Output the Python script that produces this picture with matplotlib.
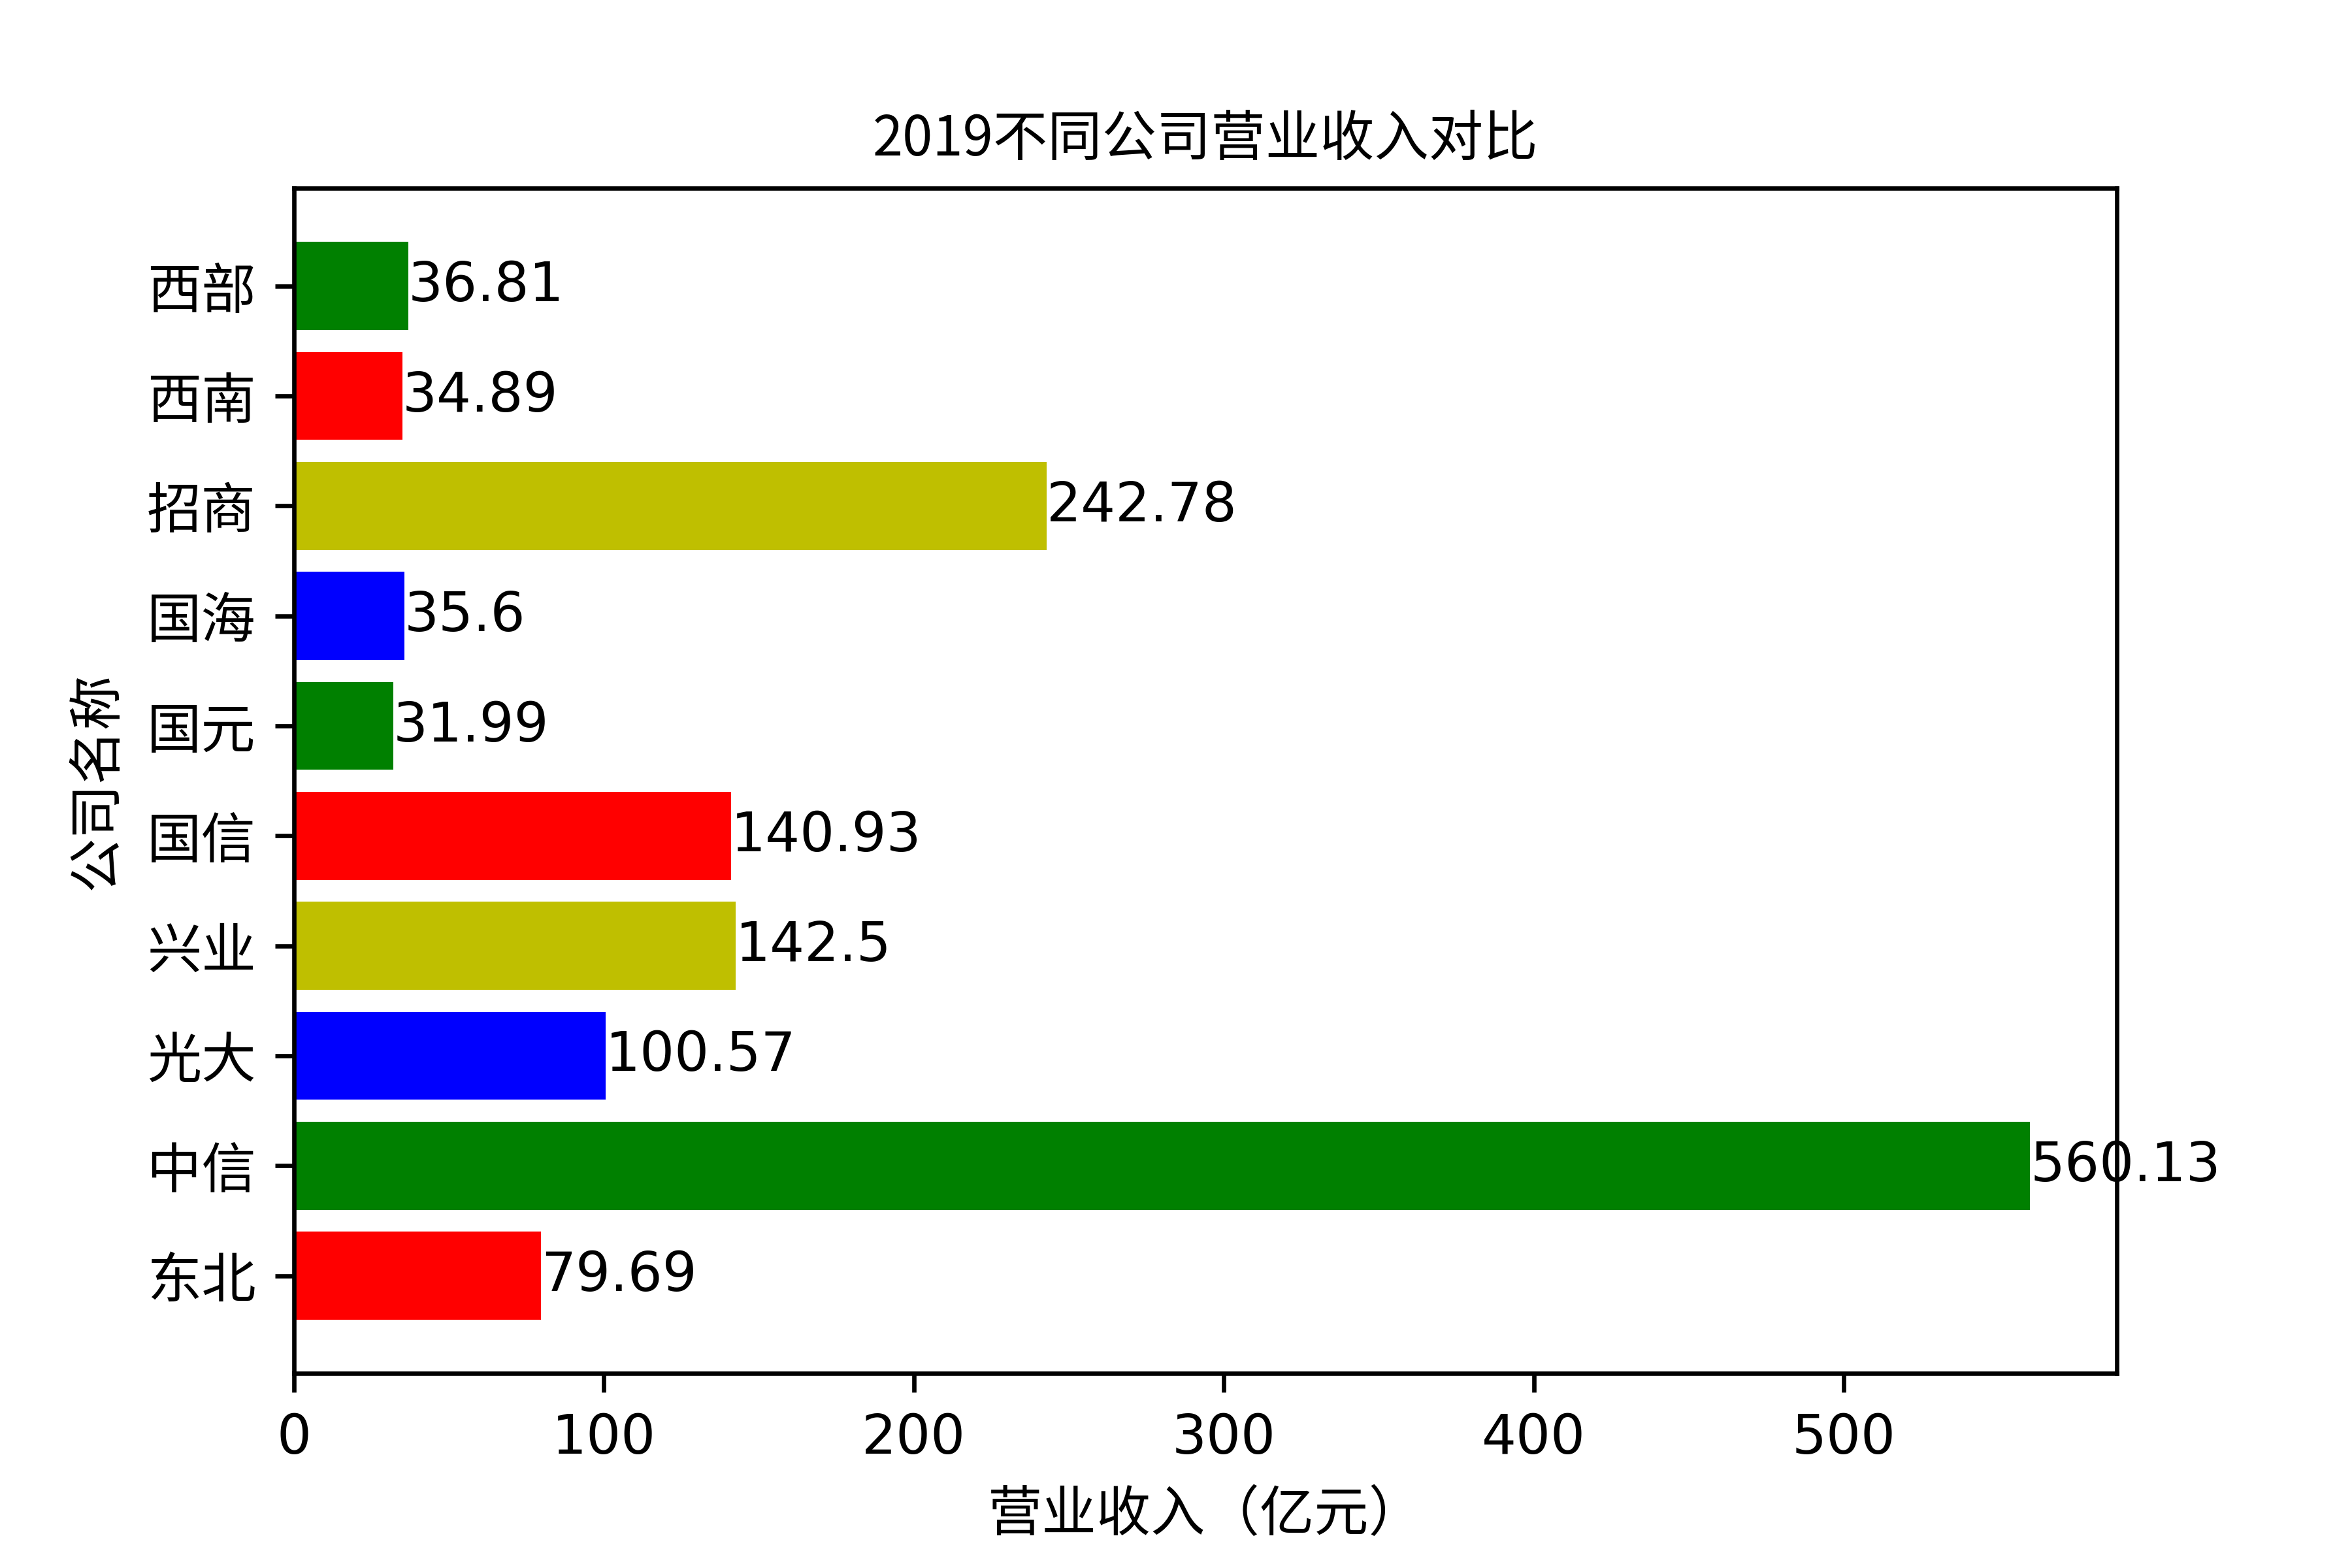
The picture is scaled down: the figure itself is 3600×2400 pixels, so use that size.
import matplotlib
matplotlib.use("Agg")
import matplotlib.pyplot as plt

plt.rcParams['font.family'] = ['DejaVu Sans', 'Noto Sans CJK SC']
plt.rcParams['axes.unicode_minus'] = False

companies = ['东北', '中信', '光大', '兴业', '国信', '国元', '国海', '招商', '西南', '西部']
revenue = [79.69, 560.13, 100.57, 142.5, 140.93, 31.99, 35.6, 242.78, 34.89, 36.81]
colors = ['r', 'g', 'b', 'y', 'r', 'g', 'b', 'y', 'r', 'g']

fig, ax = plt.subplots(figsize=(6, 4), dpi=600)
fig.subplots_adjust(left=0.125, right=0.9, top=0.88, bottom=0.124)
ax.barh(companies, revenue, color=colors)
for i, v in enumerate(revenue):
    ax.text(v, i, str(v), ha='left', va='center', fontsize=10)

ax.set_title('2019不同公司营业收入对比', fontsize=10, family=['Noto Sans CJK SC', 'DejaVu Sans'])
ax.set_xlabel('营业收入（亿元）', family=['Noto Sans CJK SC', 'DejaVu Sans'])
ax.set_ylabel('公司名称', family=['Noto Sans CJK SC', 'DejaVu Sans'])
for lab in ax.get_yticklabels():
    lab.set_family(['Noto Sans CJK SC', 'DejaVu Sans'])

fig.savefig('out.png', dpi=600)
